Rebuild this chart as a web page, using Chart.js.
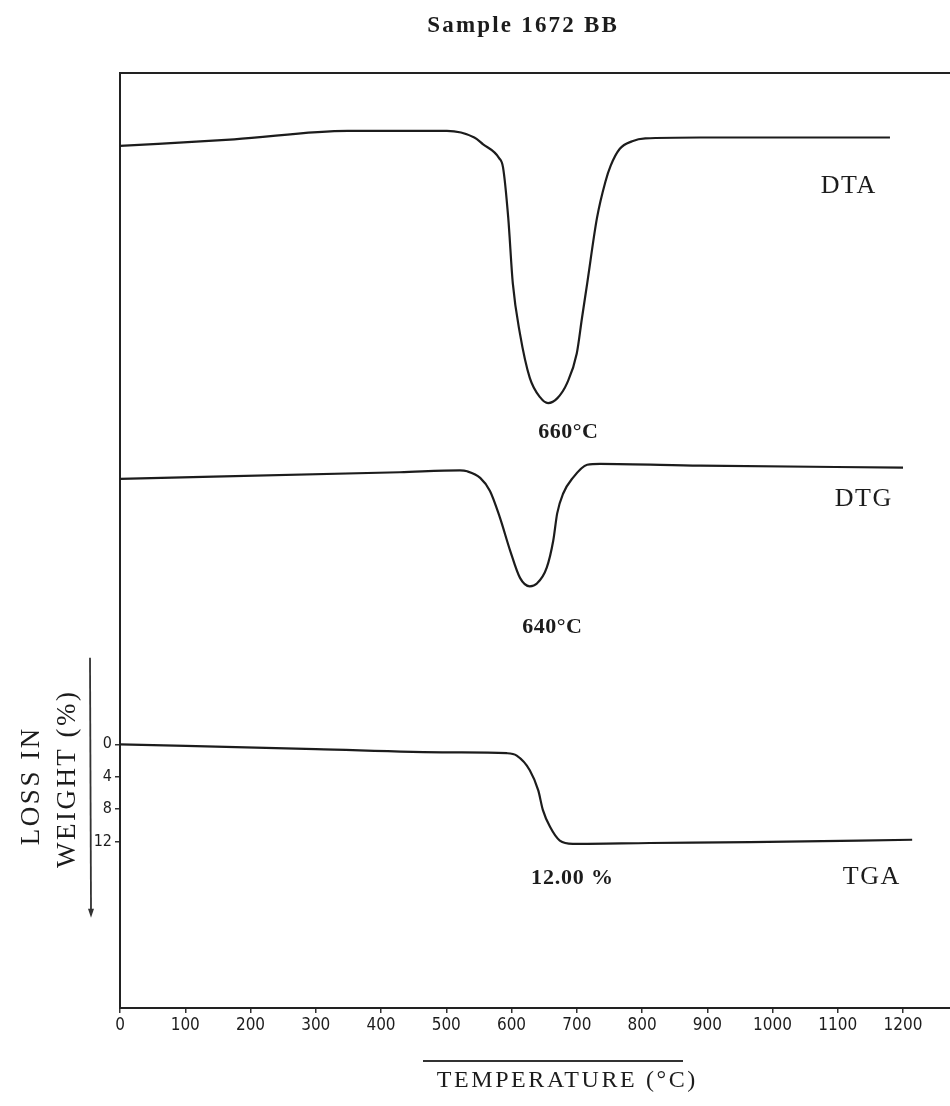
<!DOCTYPE html>
<html><head><meta charset="utf-8">
<script src="https://cdn.jsdelivr.net/npm/chart.js@4.4.0/dist/chart.umd.min.js"></script>
<style>html,body{margin:0;padding:0;background:#fff;} canvas{display:block;}</style>
</head><body>
<canvas id="c" width="950" height="1106"></canvas>
<script>
// ---- data ----
const tempTicks = [0, 100, 200, 300, 400, 500, 600, 700, 800, 900, 1000, 1100, 1200];
const lossTicks = [0, 4, 8, 12];

// DTA (arbitrary signal units)
const dtaTemp   = [0, 175, 349, 501, 543, 556, 581, 587, 595, 602, 613, 628, 644, 656, 670, 685, 700, 708, 716, 731, 744, 752, 766, 785, 805, 889, 1180];
const dtaSignal = [92.2, 92.9, 93.8, 93.8, 93.1, 92.4, 90.9, 89.9, 84.5, 77.5, 72.1, 67.4, 65.3, 64.7, 65.2, 66.8, 70.0, 73.8, 77.5, 84.5, 88.4, 90.1, 91.9, 92.7, 93.0, 93.1, 93.1];

// DTG (arbitrary signal units)
const dtgTemp   = [0, 429, 521, 532, 552, 567, 582, 598, 613, 628, 639, 654, 664, 670, 679, 694, 716, 736, 889, 1200];
const dtgSignal = [56.6, 57.3, 57.5, 57.4, 56.7, 55.3, 52.5, 48.9, 46.0, 45.1, 45.4, 47.1, 50.0, 52.9, 55.0, 56.7, 58.1, 58.2, 58.0, 57.8];

// TGA (loss in weight, %)
const tgaTemp = [0, 300, 506, 593, 608, 628, 641, 648, 659, 674, 694, 812, 966, 1214];
const tgaLoss = [0, 0.6, 1.0, 1.1, 1.4, 3.2, 5.7, 8.1, 10.2, 11.9, 12.3, 12.2, 12.1, 11.8];

const toPts = (xs, ys) => xs.map((x, i) => ({x: x, y: ys[i]}));

const INK = '#1c1c1c';
const SERIF = '"Liberation Serif", "DejaVu Serif", serif';
const SANS = '"DejaVu Sans Condensed", "DejaVu Sans", sans-serif';

const overlay = {
  id: 'overlay',
  afterDraw(chart, args, opts) {
    const ctx = chart.ctx;
    ctx.save();
    // decorative rule above the x title
    ctx.strokeStyle = '#333'; ctx.lineWidth = 2;
    ctx.beginPath(); ctx.moveTo(423, 1061); ctx.lineTo(683, 1061); ctx.stroke();
    // arrow line beside the weight axis
    const yT = chart.scales.yT;
    const y0 = yT.getPixelForValue(-10.7), y1 = yT.getPixelForValue(20.7);
    ctx.lineWidth = 1.8;
    ctx.beginPath(); ctx.moveTo(90, y0); ctx.lineTo(91, y1); ctx.stroke();
    ctx.fillStyle = '#333';
    ctx.beginPath(); ctx.moveTo(91, y1 + 6); ctx.lineTo(88, y1 - 3); ctx.lineTo(94, y1 - 3); ctx.closePath(); ctx.fill();
    for (const t of opts.texts) {
      ctx.save();
      ctx.font = t.font;
      ctx.fillStyle = INK;
      ctx.textAlign = 'center';
      ctx.textBaseline = 'middle';
      if ('letterSpacing' in ctx) ctx.letterSpacing = (t.ls || 0) + 'px';
      ctx.translate(t.x, t.y);
      if (t.rot) ctx.rotate(t.rot);
      ctx.fillText(t.text, (t.ls || 0) / 2, 0);
      ctx.restore();
    }
    ctx.restore();
  }
};

new Chart(document.getElementById('c'), {
  type: 'line',
  data: {
    datasets: [
      {label: 'DTA', data: toPts(dtaTemp, dtaSignal), yAxisID: 'ySig'},
      {label: 'DTG', data: toPts(dtgTemp, dtgSignal), yAxisID: 'ySig'},
      {label: 'TGA', data: toPts(tgaTemp, tgaLoss), yAxisID: 'yT'}
    ].map(d => Object.assign(d, {
      borderColor: INK, borderWidth: 2.2, pointRadius: 0, fill: false,
      cubicInterpolationMode: 'monotone', tension: 0.4
    }))
  },
  options: {
    responsive: false,
    animation: false,
    layout: {padding: {top: 73, left: 0, right: 0, bottom: 0}},
    plugins: {
      legend: {display: false},
      tooltip: {enabled: false},
      overlay: {
        texts: [
          {text: 'Sample 1672 BB', x: 522, y: 26, font: '600 23px ' + SERIF, ls: 2.2},
          {text: 'DTA', x: 848, y: 186, font: '26px ' + SERIF, ls: 1.5},
          {text: 'DTG', x: 863, y: 499, font: '26px ' + SERIF, ls: 1.5},
          {text: 'TGA', x: 871, y: 877, font: '26px ' + SERIF, ls: 1.5},
          {text: '660°C', x: 568, y: 432, font: 'bold 22px ' + SERIF, ls: 0.5},
          {text: '640°C', x: 552, y: 627, font: 'bold 22px ' + SERIF, ls: 0.5},
          {text: '12.00 %', x: 572, y: 878, font: 'bold 22px ' + SERIF, ls: 0.8},
          {text: 'TEMPERATURE (°C)', x: 566, y: 1081, font: '24px ' + SERIF, ls: 2.6},
          {text: 'LOSS IN', x: 32, y: 787, font: '27px ' + SERIF, ls: 2.5, rot: -Math.PI / 2},
          {text: 'WEIGHT (%)', x: 68, y: 780, font: '27px ' + SERIF, ls: 2.5, rot: -Math.PI / 2}
        ]
      }
    },
    scales: {
      x: {
        type: 'linear', position: 'bottom', min: 0, max: 1272,
        afterBuildTicks: s => { s.ticks = tempTicks.map(v => ({value: v})); },
        afterFit: s => { s.height = 98; },
        ticks: {font: {family: SANS, size: 17}, color: INK, padding: 2, autoSkip: false, maxRotation: 0,
                callback: v => String(v)},
        grid: {drawOnChartArea: false, drawTicks: true, tickLength: 5, color: '#333', lineWidth: 1.5},
        border: {display: true, color: '#222', width: 2}
      },
      xTop: {
        type: 'linear', position: 'top', min: 0, max: 1272,
        afterFit: s => { s.height = 0; },
        ticks: {display: false},
        grid: {display: false, drawTicks: false},
        border: {display: true, color: '#222', width: 2}
      },
      yT: {
        type: 'linear', position: 'left', reverse: true, min: -83.0, max: 32.6,
        afterBuildTicks: s => { s.ticks = lossTicks.map(v => ({value: v})); },
        afterFit: s => { s.width = 120; },
        ticks: {font: {family: SANS, size: 16}, color: INK, padding: 3, autoSkip: false,
                callback: v => String(v)},
        grid: {drawOnChartArea: false, drawTicks: true, tickLength: 5, color: '#333', lineWidth: 1.5},
        border: {display: true, color: '#222', width: 2}
      },
      ySig: {
        type: 'linear', display: false, min: 0, max: 100
      }
    }
  },
  plugins: [overlay]
});
</script>
</body></html>
